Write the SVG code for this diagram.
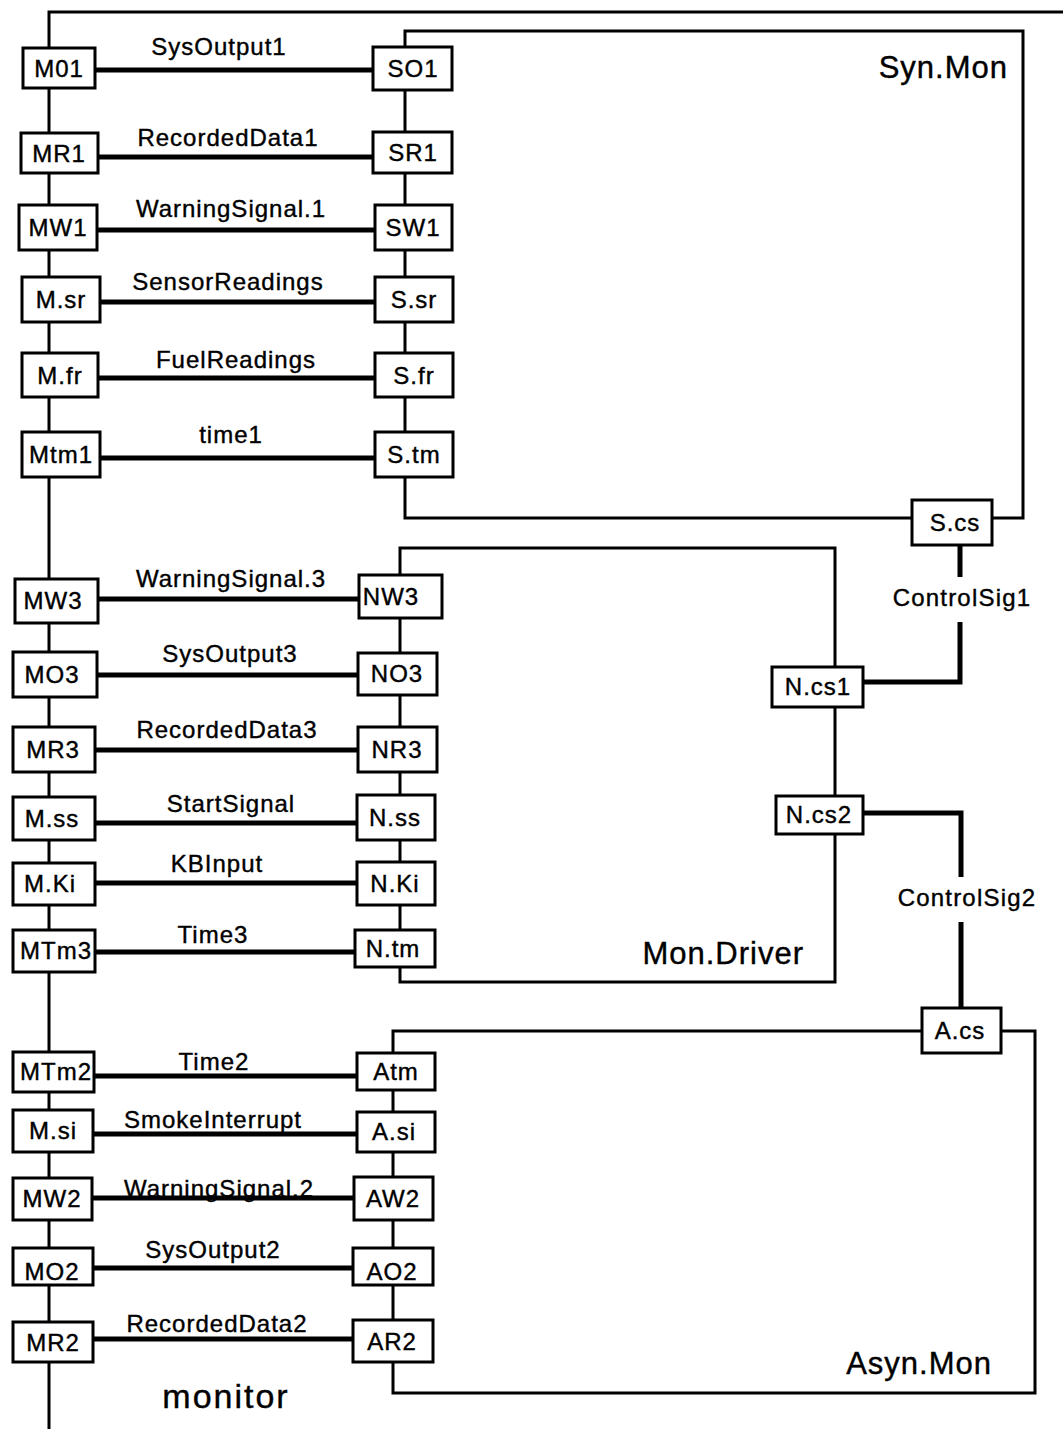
<svg xmlns="http://www.w3.org/2000/svg" width="1063" height="1429" viewBox="0 0 1063 1429">
  <style>
    .box { fill: #fff; stroke: #000; stroke-width: 3; }
    .bus { fill: none; stroke: #000; stroke-width: 3; }
    .wire { fill: none; stroke: #000; stroke-width: 5; }
    text { font-family: "Liberation Sans", Arial, Helvetica, sans-serif; fill: #000; stroke: #000; stroke-width: 0.4; }
    .nl { font-size: 24px; text-anchor: middle; letter-spacing: 1px; }
    .sl { font-size: 24px; text-anchor: middle; letter-spacing: 1px; }
    .cl { font-size: 24px; text-anchor: middle; letter-spacing: 1.2px; }
    .pl { font-size: 31px; text-anchor: end; letter-spacing: 1px; }
  </style>

  <!-- process outlines and shared buses -->
  <g id="outlines">
    <!-- monitor bus -->
    <path class="bus" d="M1063,12 H49 V1429"/>
    <!-- Syn.Mon -->
    <path class="bus" d="M405,50 V31 H1023 V518 H992 M912,518 H405 V477"/>
    <path class="bus" d="M405,90 V132 M405,173 V205 M405,250 V277 M405,322 V353 M405,397 V432"/>
    <!-- Mon.Driver -->
    <path class="bus" d="M400,575 V548 H835 V982 H400 V967"/>
    <path class="bus" d="M400,618 V653 M400,695 V727 M400,772 V795 M400,840 V862 M400,905 V930"/>
    <!-- Asyn.Mon -->
    <path class="bus" d="M393,1053 V1031 H922 M1001,1031 H1035 V1393 H393 V1362"/>
    <path class="bus" d="M393,1090 V1112 M393,1152 V1177 M393,1220 V1248 M393,1285 V1320"/>
    <text class="pl" x="1008" y="78">Syn.Mon</text>
    <text class="pl" x="804" y="964" letter-spacing="2">Mon.Driver</text>
    <text class="pl" x="992" y="1374">Asyn.Mon</text>
    <text x="226" y="1408" font-size="34" text-anchor="middle" letter-spacing="2">monitor</text>
  </g>

  <!-- signal connectors -->
  <g id="connectors">
    <path class="wire" d="M95,70 H373"/>
    <path class="wire" d="M98,157 H373"/>
    <path class="wire" d="M97,230 H375"/>
    <path class="wire" d="M100,302 H375"/>
    <path class="wire" d="M98,378 H375"/>
    <path class="wire" d="M100,458 H375"/>
    <path class="wire" d="M98,599 H359"/>
    <path class="wire" d="M97,675 H358"/>
    <path class="wire" d="M95,750 H358"/>
    <path class="wire" d="M95,823 H357"/>
    <path class="wire" d="M95,883 H357"/>
    <path class="wire" d="M95,952 H355"/>
    <path class="wire" d="M94,1076 H357"/>
    <path class="wire" d="M93,1134 H357"/>
    <path class="wire" d="M92,1198 H354"/>
    <path class="wire" d="M93,1268 H353"/>
    <path class="wire" d="M93,1339 H353"/>
    <path class="wire" d="M960,545 V577 M960,622 V682 H863"/>
    <path class="wire" d="M863,813 H961 V877 M961,922 V1008"/>

    <text class="sl" x="219" y="55">SysOutput1</text>
    <text class="sl" x="228" y="146">RecordedData1</text>
    <text class="sl" x="231" y="217">WarningSignal.1</text>
    <text class="sl" x="228" y="290">SensorReadings</text>
    <text class="sl" x="236" y="368">FuelReadings</text>
    <text class="sl" x="231" y="443">time1</text>
    <text class="sl" x="231" y="587">WarningSignal.3</text>
    <text class="sl" x="230" y="662">SysOutput3</text>
    <text class="sl" x="227" y="738">RecordedData3</text>
    <text class="sl" x="231" y="812">StartSignal</text>
    <text class="sl" x="217" y="872">KBInput</text>
    <text class="sl" x="213" y="943">Time3</text>
    <text class="sl" x="214" y="1070">Time2</text>
    <text class="sl" x="213" y="1128">SmokeInterrupt</text>
    <text class="sl" x="219" y="1197">WarningSignal.2</text>
    <text class="sl" x="213" y="1258">SysOutput2</text>
    <text class="sl" x="217" y="1332">RecordedData2</text>
    <text class="cl" x="962" y="606">ControlSig1</text>
    <text class="cl" x="967" y="906">ControlSig2</text>
  </g>

  <!-- monitor ports -->
  <g id="M01"><rect class="box" x="23" y="48" width="72" height="40"/><text class="nl" x="59" y="77">M01</text></g>
  <g id="MR1"><rect class="box" x="21" y="133" width="77" height="40"/><text class="nl" x="59" y="162">MR1</text></g>
  <g id="MW1"><rect class="box" x="19" y="205" width="78" height="45"/><text class="nl" x="58" y="236">MW1</text></g>
  <g id="M.sr"><rect class="box" x="22" y="277" width="78" height="45"/><text class="nl" x="61" y="308">M.sr</text></g>
  <g id="M.fr"><rect class="box" x="22" y="353" width="76" height="44"/><text class="nl" x="60" y="384">M.fr</text></g>
  <g id="Mtm1"><rect class="box" x="22" y="432" width="78" height="45"/><text class="nl" x="61" y="463">Mtm1</text></g>
  <g id="MW3"><rect class="box" x="15" y="579" width="83" height="44"/><text class="nl" x="53" y="609">MW3</text></g>
  <g id="MO3"><rect class="box" x="13" y="652" width="84" height="45"/><text class="nl" x="52" y="683">MO3</text></g>
  <g id="MR3"><rect class="box" x="13" y="727" width="82" height="45"/><text class="nl" x="53" y="758">MR3</text></g>
  <g id="M.ss"><rect class="box" x="13" y="797" width="82" height="43"/><text class="nl" x="52" y="827">M.ss</text></g>
  <g id="M.Ki"><rect class="box" x="13" y="863" width="82" height="42"/><text class="nl" x="50" y="892">M.Ki</text></g>
  <g id="MTm3"><rect class="box" x="13" y="930" width="82" height="42"/><text class="nl" x="56" y="959">MTm3</text></g>
  <g id="MTm2"><rect class="box" x="13" y="1052" width="81" height="40"/><text class="nl" x="56" y="1080">MTm2</text></g>
  <g id="M.si"><rect class="box" x="13" y="1110" width="80" height="42"/><text class="nl" x="53" y="1139">M.si</text></g>
  <g id="MW2"><rect class="box" x="13" y="1178" width="79" height="42"/><text class="nl" x="52" y="1207">MW2</text></g>
  <g id="MO2"><rect class="box" x="13" y="1248" width="80" height="37"/><text class="nl" x="52" y="1280">MO2</text></g>
  <g id="MR2"><rect class="box" x="13" y="1322" width="80" height="40"/><text class="nl" x="53" y="1351">MR2</text></g>

  <!-- Syn.Mon ports -->
  <g id="SO1"><rect class="box" x="373" y="47" width="79" height="43"/><text class="nl" x="413" y="77">SO1</text></g>
  <g id="SR1"><rect class="box" x="373" y="132" width="79" height="41"/><text class="nl" x="413" y="161">SR1</text></g>
  <g id="SW1"><rect class="box" x="375" y="205" width="77" height="45"/><text class="nl" x="413" y="236">SW1</text></g>
  <g id="S.sr"><rect class="box" x="375" y="277" width="78" height="45"/><text class="nl" x="414" y="308">S.sr</text></g>
  <g id="S.fr"><rect class="box" x="375" y="353" width="78" height="44"/><text class="nl" x="414" y="384">S.fr</text></g>
  <g id="S.tm"><rect class="box" x="375" y="432" width="78" height="45"/><text class="nl" x="414" y="463">S.tm</text></g>
  <g id="S.cs"><rect class="box" x="912" y="500" width="80" height="45"/><text class="nl" x="955" y="531">S.cs</text></g>

  <!-- Mon.Driver ports -->
  <g id="NW3"><rect class="box" x="359" y="575" width="83" height="43"/><text class="nl" x="391" y="605">NW3</text></g>
  <g id="NO3"><rect class="box" x="358" y="653" width="79" height="42"/><text class="nl" x="397" y="682">NO3</text></g>
  <g id="NR3"><rect class="box" x="358" y="727" width="79" height="45"/><text class="nl" x="397" y="758">NR3</text></g>
  <g id="N.ss"><rect class="box" x="357" y="795" width="78" height="45"/><text class="nl" x="395" y="826">N.ss</text></g>
  <g id="N.Ki"><rect class="box" x="357" y="862" width="78" height="43"/><text class="nl" x="395" y="892">N.Ki</text></g>
  <g id="N.tm"><rect class="box" x="355" y="930" width="80" height="37"/><text class="nl" x="393" y="957">N.tm</text></g>
  <g id="N.cs1"><rect class="box" x="772" y="667" width="91" height="40"/><text class="nl" x="818" y="695">N.cs1</text></g>
  <g id="N.cs2"><rect class="box" x="776" y="796" width="87" height="38"/><text class="nl" x="819" y="823">N.cs2</text></g>

  <!-- Asyn.Mon ports -->
  <g id="A.cs"><rect class="box" x="922" y="1008" width="79" height="45"/><text class="nl" x="960" y="1039">A.cs</text></g>
  <g id="Atm"><rect class="box" x="357" y="1053" width="78" height="37"/><text class="nl" x="396" y="1080">Atm</text></g>
  <g id="A.si"><rect class="box" x="357" y="1112" width="78" height="40"/><text class="nl" x="394" y="1140">A.si</text></g>
  <g id="AW2"><rect class="box" x="354" y="1177" width="79" height="43"/><text class="nl" x="393" y="1207">AW2</text></g>
  <g id="AO2"><rect class="box" x="353" y="1248" width="80" height="37"/><text class="nl" x="392" y="1280">AO2</text></g>
  <g id="AR2"><rect class="box" x="353" y="1320" width="80" height="42"/><text class="nl" x="392" y="1350">AR2</text></g>
</svg>
